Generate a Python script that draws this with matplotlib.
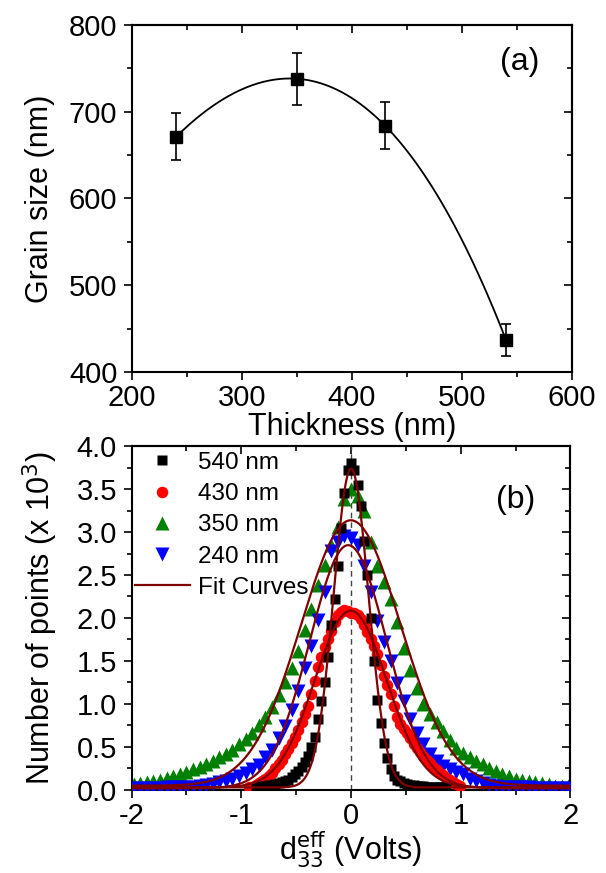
import numpy as np
import matplotlib
matplotlib.use("Agg")
import matplotlib.pyplot as plt
from matplotlib.ticker import MultipleLocator

plt.rcParams['font.family'] = ['Liberation Sans', 'DejaVu Sans']
plt.rcParams['axes.unicode_minus'] = False

# panel (a): grain size vs film thickness
thickness = [240, 350, 430, 540]
grain = [671, 738, 684, 437]
grain_err = [27, 30, 27, 18]

# panel (b): histograms of d33 response
volts_wide = [-1.98, -1.92, -1.86, -1.80, -1.74, -1.68, -1.62, -1.56, -1.50, -1.44,
              -1.38, -1.32, -1.26, -1.20, -1.14, -1.08, -1.02, -0.96, -0.90, -0.84,
              -0.78, -0.72, -0.66, -0.60, -0.54, -0.48, -0.42, -0.36, -0.30, -0.24,
              -0.18, -0.12, -0.06, 0.00, 0.06, 0.12, 0.18, 0.24, 0.30, 0.36,
              0.42, 0.48, 0.54, 0.60, 0.66, 0.72, 0.78, 0.84, 0.90, 0.96,
              1.02, 1.08, 1.14, 1.20, 1.26, 1.32, 1.38, 1.44, 1.50, 1.56,
              1.62, 1.68, 1.74, 1.80, 1.86, 1.92, 1.98]
volts_black = [-0.87, -0.84, -0.81, -0.78, -0.75, -0.72, -0.69, -0.66, -0.63, -0.60,
               -0.57, -0.54, -0.51, -0.48, -0.45, -0.42, -0.39, -0.36, -0.33, -0.30,
               -0.27, -0.24, -0.21, -0.18, -0.15, -0.12, -0.09, -0.06, -0.03, 0.00,
               0.03, 0.06, 0.09, 0.12, 0.15, 0.18, 0.21, 0.24, 0.27, 0.30,
               0.33, 0.36, 0.39, 0.42, 0.45, 0.48, 0.51, 0.54, 0.57, 0.60,
               0.63, 0.66, 0.69, 0.72, 0.75, 0.78, 0.81, 0.84, 0.87]
volts_red = [-0.93, -0.90, -0.87, -0.84, -0.81, -0.78, -0.75, -0.72, -0.69, -0.66,
             -0.63, -0.60, -0.57, -0.54, -0.51, -0.48, -0.45, -0.42, -0.39, -0.36,
             -0.33, -0.30, -0.27, -0.24, -0.21, -0.18, -0.15, -0.12, -0.09, -0.06,
             -0.03, 0.00, 0.03, 0.06, 0.09, 0.12, 0.15, 0.18, 0.21, 0.24,
             0.27, 0.30, 0.33, 0.36, 0.39, 0.42, 0.45, 0.48, 0.51, 0.54,
             0.57, 0.60, 0.63, 0.66, 0.69, 0.72, 0.75, 0.78, 0.81, 0.84,
             0.87, 0.90, 0.93, 0.96, 0.99]

n540 = [0.04, 0.04, 0.05, 0.05, 0.06, 0.06, 0.07, 0.08, 0.09, 0.11,
        0.12, 0.15, 0.18, 0.22, 0.27, 0.33, 0.40, 0.50, 0.62, 0.82,
        1.03, 1.25, 1.55, 1.92, 2.22, 2.60, 3.05, 3.45, 3.72, 3.80,
        3.72, 3.55, 3.30, 2.90, 2.50, 2.00, 1.50, 1.05, 0.78, 0.55,
        0.37, 0.24, 0.16, 0.12, 0.10, 0.08, 0.07, 0.06, 0.06, 0.05,
        0.05, 0.05, 0.04, 0.04, 0.04, 0.04, 0.03, 0.03, 0.03]
n430 = [0.03, 0.04, 0.06, 0.08, 0.10, 0.13, 0.16, 0.20, 0.25, 0.30,
        0.35, 0.42, 0.48, 0.55, 0.62, 0.70, 0.79, 0.88, 0.98, 1.12,
        1.27, 1.43, 1.55, 1.66, 1.75, 1.85, 1.95, 2.03, 2.07, 2.09,
        2.08, 2.06, 2.06, 2.04, 1.99, 1.92, 1.84, 1.76, 1.68, 1.58,
        1.45, 1.32, 1.22, 1.12, 0.98, 0.85, 0.77, 0.71, 0.66, 0.60,
        0.54, 0.49, 0.44, 0.39, 0.35, 0.31, 0.27, 0.23, 0.20, 0.17,
        0.14, 0.12, 0.09, 0.07, 0.05]
n350 = [0.07, 0.08, 0.09, 0.11, 0.12, 0.14, 0.16, 0.19, 0.21, 0.24,
        0.27, 0.30, 0.34, 0.38, 0.42, 0.47, 0.53, 0.59, 0.66, 0.75,
        0.85, 0.97, 1.10, 1.25, 1.42, 1.62, 1.86, 2.10, 2.38, 2.62,
        2.85, 3.06, 3.38, 3.50, 3.42, 3.24, 2.88, 2.60, 2.42, 2.22,
        1.95, 1.65, 1.40, 1.19, 1.00, 0.88, 0.79, 0.69, 0.58, 0.49,
        0.43, 0.38, 0.34, 0.30, 0.25, 0.22, 0.19, 0.16, 0.13, 0.12,
        0.10, 0.09, 0.08, 0.07, 0.05, 0.05, 0.05]
n240 = [0.02, 0.02, 0.02, 0.02, 0.02, 0.03, 0.03, 0.03, 0.04, 0.04,
        0.05, 0.06, 0.07, 0.09, 0.10, 0.13, 0.16, 0.20, 0.24, 0.29,
        0.38, 0.47, 0.60, 0.74, 0.93, 1.15, 1.42, 1.67, 1.98, 2.30,
        2.78, 2.88, 2.95, 2.93, 2.85, 2.60, 2.30, 1.96, 1.72, 1.50,
        1.24, 1.04, 0.83, 0.66, 0.53, 0.42, 0.34, 0.28, 0.24, 0.21,
        0.18, 0.13, 0.10, 0.08, 0.06, 0.05, 0.04, 0.04, 0.03, 0.03,
        0.03, 0.02, 0.02, 0.02, 0.02, 0.02, 0.02]


def gauss_fit(x, y):
    # gaussian least squares on top of the series' own baseline
    x = np.asarray(x, float)
    y = np.asarray(y, float)
    y0 = y.min()
    p = np.array([y.max() - y0, x[np.argmax(y)], 0.3])
    for _ in range(200):
        a, xc, w = p
        e = np.exp(-(x - xc) ** 2 / (2 * w ** 2))
        f = y0 + a * e
        J = np.column_stack([e, a * e * (x - xc) / w ** 2,
                             a * e * (x - xc) ** 2 / w ** 3])
        dp = np.linalg.lstsq(J, y - f, rcond=None)[0]
        p = p + 0.5 * dp
    return y0, p


def gauss(x, y0, p):
    a, xc, w = p
    return y0 + a * np.exp(-(x - xc) ** 2 / (2 * w ** 2))


fig = plt.figure(figsize=(6.06, 8.73), dpi=100)
ax1 = fig.add_axes([0.2178, 0.5739, 0.7261, 0.3975])
ax2 = fig.add_axes([0.2170, 0.0951, 0.7244, 0.3940])

fs_tick = 21
fs_lab = 22


def style(ax, xmaj, xmin, ymaj, ymin):
    for s in ax.spines.values():
        s.set_linewidth(1.5)
    ax.xaxis.set_major_locator(MultipleLocator(xmaj))
    ax.xaxis.set_minor_locator(MultipleLocator(xmin))
    ax.yaxis.set_major_locator(MultipleLocator(ymaj))
    ax.yaxis.set_minor_locator(MultipleLocator(ymin))
    ax.tick_params(which='major', direction='out', length=6, width=1.2,
                   labelsize=fs_tick)
    ax.tick_params(which='minor', direction='out', length=3.5, width=1.2)
    ax.tick_params(axis='x', pad=2.5)
    ax.tick_params(axis='y', pad=4.5)
    top = ax.secondary_xaxis('top')
    top.xaxis.set_major_locator(MultipleLocator(xmaj))
    top.xaxis.set_minor_locator(MultipleLocator(xmin))
    top.tick_params(which='major', direction='in', length=6, width=1.2, labeltop=False)
    top.tick_params(which='minor', direction='in', length=3.5, width=1.2)
    top.spines['top'].set_linewidth(1.5)
    right = ax.secondary_yaxis('right')
    right.yaxis.set_major_locator(MultipleLocator(ymaj))
    right.yaxis.set_minor_locator(MultipleLocator(ymin))
    right.tick_params(which='major', direction='in', length=6, width=1.2, labelright=False)
    right.tick_params(which='minor', direction='in', length=3.5, width=1.2)
    right.spines['right'].set_linewidth(1.5)


# ---- (a)
coef = np.polyfit(thickness, grain, 3)
xs = np.linspace(min(thickness), max(thickness), 300)
ax1.plot(xs, np.polyval(coef, xs), color='black', lw=1.3, zorder=2)
ax1.errorbar(thickness, grain, yerr=grain_err, fmt='s', color='black',
             ms=8.5, capsize=3.3, elinewidth=1.2, capthick=1.2, zorder=3)
ax1.set_xlim(200, 600)
ax1.set_ylim(400, 800)
style(ax1, 100, 50, 100, 50)
ax1.set_xlabel('Thickness (nm)', fontsize=fs_lab, labelpad=0)
ax1.set_ylabel('Grain size (nm)', fontsize=fs_lab, labelpad=10)
ax1.text(0.88, 0.893, '(a)', transform=ax1.transAxes, fontsize=23,
         ha='center', va='center')

# ---- (b)
ax2.axvline(0, color='#444444', lw=1, ls=(0, (4, 3)), zorder=1)
ax2.plot(volts_wide, n350, '^', color='#008000', ms=9.5, mec='none', zorder=2)
ax2.plot(volts_wide, n240, 'v', color='#0000ff', ms=9.5, mec='none', zorder=3)
ax2.plot(volts_red, n430, 'o', color='#ff0000', ms=8.3, mec='none', zorder=4)
ax2.plot(volts_black, n540, 's', color='black', ms=6.8, mec='none', zorder=5)

xf = np.linspace(-2, 2, 600)
for vx, vy in [(volts_black, n540), (volts_red, n430),
               (volts_wide, n350), (volts_wide, n240)]:
    y0, p = gauss_fit(vx, vy)
    ax2.plot(xf, gauss(xf, y0, p), color='#800000', lw=1.6, zorder=6)

ax2.set_xlim(-2, 2)
ax2.set_ylim(0, 4)
style(ax2, 1, 0.5, 0.5, 0.25)
ax2.set_xlabel(r'd$_{33}^{\mathrm{eff}}$ (Volts)', fontsize=fs_lab, labelpad=0)
ax2.set_ylabel(r'Number of points (x 10$^3$)', fontsize=fs_lab, labelpad=12)
ax2.text(0.874, 0.843, '(b)', transform=ax2.transAxes, fontsize=23,
         ha='center', va='center')

hs = [
    plt.Line2D([], [], ls='none', marker='s', color='black', ms=7.2, mec='none'),
    plt.Line2D([], [], ls='none', marker='o', color='#ff0000', ms=8.3, mec='none'),
    plt.Line2D([], [], ls='none', marker='^', color='#008000', ms=9.5, mec='none'),
    plt.Line2D([], [], ls='none', marker='v', color='#0000ff', ms=9.5, mec='none'),
    plt.Line2D([], [], color='#800000', lw=1.6),
]
ax2.legend(hs, ['540 nm', '430 nm', '350 nm', '240 nm', 'Fit Curves'],
           loc='upper left', bbox_to_anchor=(0.008, 0.983), frameon=False,
           fontsize=17.5, handlelength=2.26, handletextpad=0.32,
           labelspacing=0.38, borderpad=0, borderaxespad=0)

fig.savefig('out.png', dpi=100)
